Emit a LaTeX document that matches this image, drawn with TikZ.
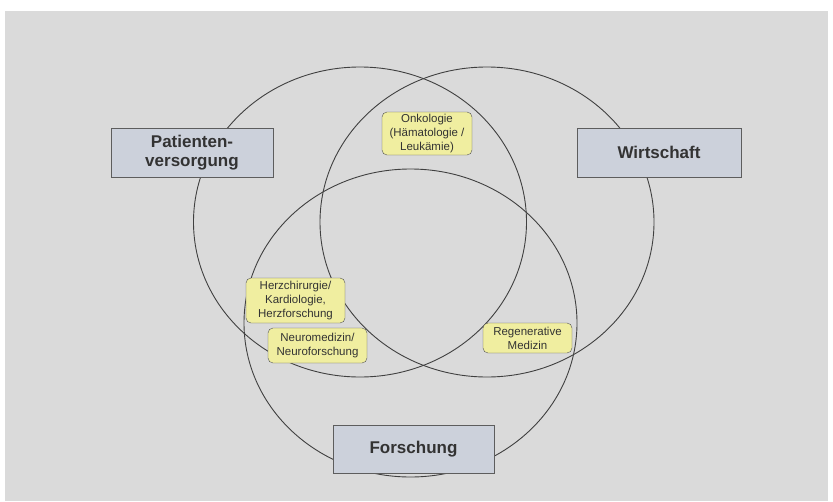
\documentclass[tikz,border=0pt]{standalone}
\usepackage{fontspec}
\setmainfont{Liberation Sans}
\definecolor{hgrundgrau}{RGB}{218,218,218}
\definecolor{bereichblau}{RGB}{204,209,219}
\definecolor{themagelb}{RGB}{240,238,160}
\definecolor{liniengrau}{RGB}{64,64,64}
\tikzset{
  bereich/.style={draw=liniengrau!85, fill=bereichblau, inner sep=0pt, align=center,
    text=black!80, font=\fontsize{17}{19}\selectfont\bfseries},
  thema/.style={draw=liniengrau!90, fill=themagelb, rounded corners=5pt, inner sep=0pt,
    align=center, text=black!80, font=\fontsize{11.5}{14}\selectfont},
  kreis/.style={draw=liniengrau, line width=0.9pt}
}
\begin{document}
\begin{tikzpicture}[x=1pt,y=-1pt]
  \useasboundingbox (0,0) rectangle (833,501);
  %hintergrund
  \fill[hgrundgrau] (5,11) rectangle (828,501);
  %kreise
  \draw[kreis] (360,222) ellipse (166.5 and 155);
  \draw[kreis] (487,222) ellipse (167 and 155);
  \draw[kreis] (410.5,323) ellipse (166.5 and 154);
  %bereiche
  \node[bereich, minimum width=162pt, minimum height=49pt] (patienten) at (192,152.5) {Patienten-\\versorgung};
  \node[bereich, minimum width=164pt, minimum height=49pt] (wirtschaft) at (659,152.5) {Wirtschaft};
  \node[bereich, minimum width=161pt, minimum height=48pt] (forschung) at (413.5,449) {Forschung};
  %themen
  \node[thema, minimum width=90pt, minimum height=43pt] (onko) at (427,133.5) {Onkologie\\(Hämatologie /\\Leukämie)};
  \node[thema, minimum width=99pt, minimum height=45pt] (herz) at (295.5,300.5) {Herzchirurgie/\\Kardiologie,\\Herzforschung};
  \node[thema, minimum width=99pt, minimum height=35pt] (neuro) at (317.5,345.5) {Neuromedizin/\\Neuroforschung};
  \node[thema, minimum width=89pt, minimum height=30pt] (regen) at (527.5,338) {Regenerative\\Medizin};
\end{tikzpicture}
\end{document}
